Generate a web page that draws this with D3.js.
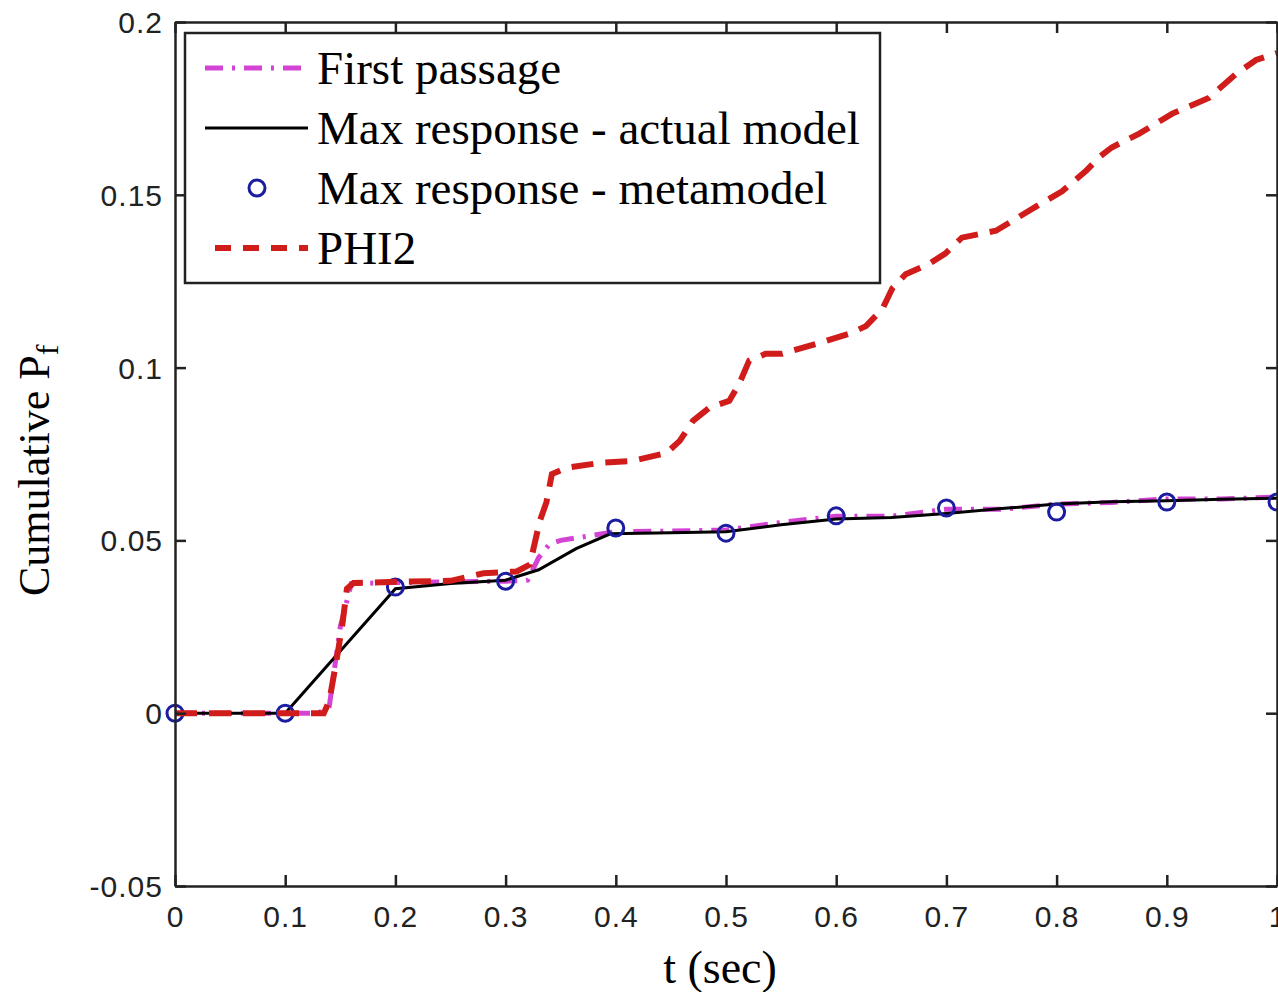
<!DOCTYPE html>
<html><head><meta charset="utf-8">
<script src="https://cdn.jsdelivr.net/npm/d3@7"></script>
<style>body{margin:0;background:#fff}svg{display:block}</style>
</head><body>
<svg id="c" width="1278" height="992"></svg>
<script>
// ---- data ----
const xTicks = [0,0.1,0.2,0.3,0.4,0.5,0.6,0.7,0.8,0.9,1];
const xTickLabels = ["0","0.1","0.2","0.3","0.4","0.5","0.6","0.7","0.8","0.9","1"];
const yTicks = [-0.05,0,0.05,0.1,0.15,0.2];
const yTickLabels = ["-0.05","0","0.05","0.1","0.15","0.2"];

const firstT = [0,0.13,0.14,0.15,0.16,0.2,0.25,0.3,0.32,0.33,0.34,0.35,0.4,0.45,0.5,0.55,0.6,0.65,0.7,0.75,0.8,0.85,0.9,0.95,1.0];
const firstV = [0,0,0.002,0.025,0.0375,0.0378,0.038,0.0382,0.0385,0.045,0.049,0.05,0.0525,0.0527,0.053,0.0552,0.057,0.057,0.059,0.059,0.0605,0.061,0.062,0.062,0.0625];

const actualT = [0,0.1,0.2,0.25,0.3,0.33,0.364,0.395,0.45,0.5,0.55,0.6,0.65,0.7,0.75,0.8,0.85,0.9,0.95,1.0];
const actualV = [0,0,0.036,0.0375,0.0385,0.0415,0.0476,0.0519,0.0522,0.0525,0.0545,0.0562,0.0566,0.0578,0.0592,0.0605,0.0612,0.0615,0.0619,0.0622];

const metaT = [0,0.1,0.2,0.3,0.4,0.5,0.6,0.7,0.8,0.9,1.0];
const metaV = [0,0,0.0365,0.0382,0.0536,0.0521,0.0571,0.0594,0.0582,0.0611,0.0611];

const phiT = [0,0.05,0.1,0.135,0.14,0.148,0.152,0.156,0.162,0.2,0.25,0.28,0.31,0.322,0.331,0.337,0.342,0.355,0.385,0.415,0.446,0.458,0.47,0.485,0.503,0.512,0.521,0.536,0.551,0.582,0.612,0.627,0.642,0.651,0.663,0.684,0.699,0.714,0.745,0.775,0.805,0.827,0.839,0.85,0.875,0.905,0.938,0.963,0.981,1.0];
const phiV = [0,0,0,0,0.0035,0.018,0.026,0.036,0.0377,0.038,0.0383,0.0405,0.041,0.043,0.0556,0.061,0.0692,0.071,0.0724,0.073,0.0753,0.0788,0.0846,0.0884,0.0904,0.0953,0.102,0.104,0.104,0.1069,0.1098,0.112,0.117,0.123,0.127,0.130,0.133,0.1376,0.1396,0.1454,0.151,0.157,0.161,0.1637,0.1677,0.1735,0.178,0.185,0.189,0.191];

const legendLabels = ["First passage","Max response - actual model","Max response - metamodel","PHI2"];

// ---- layout ----
const svg = d3.select("#c");
const L = 175, R = 1277, T = 22, B = 886;
const x = d3.scaleLinear().domain([0,1]).range([L,R]);
const y = d3.scaleLinear().domain([-0.05,0.2]).range([B,T]);

const MAG = "#d444d4", RED = "#d11c1c", BLUE = "#1c1ca0", AX = "#222";

const line = d3.line().x(d=>x(d[0])).y(d=>y(d[1]));
const zip = (a,b)=>a.map((v,i)=>[v,b[i]]);

// ---- series ----
svg.append("path").attr("d", line(zip(firstT, firstV)))
  .attr("fill","none").attr("stroke",MAG).attr("stroke-width",5)
  .attr("stroke-dasharray","18,9,3,9");
svg.append("path").attr("d", line(zip(actualT, actualV)))
  .attr("fill","none").attr("stroke","#000").attr("stroke-width",3);
svg.append("g").selectAll("circle").data(zip(metaT, metaV)).join("circle")
  .attr("cx",d=>x(d[0])).attr("cy",d=>y(d[1])).attr("r",8)
  .attr("fill","none").attr("stroke",BLUE).attr("stroke-width",3);
svg.append("path").attr("d", line(zip(phiT, phiV)))
  .attr("fill","none").attr("stroke",RED).attr("stroke-width",6)
  .attr("stroke-dasharray","22,12");

// ---- axes ----
const fmtX = (d,i)=>xTickLabels[i];
const fmtY = (d,i)=>yTickLabels[i];
const tickFont = g => g.selectAll("text").attr("font-family","'Liberation Sans', Arial, sans-serif")
  .attr("font-size",30).attr("fill","#222").attr("letter-spacing","1px");

const gx = svg.append("g").attr("transform",`translate(0,${B})`)
  .call(d3.axisBottom(x).tickValues(xTicks).tickFormat(fmtX).tickSizeInner(-11).tickSizeOuter(0).tickPadding(26));
gx.call(tickFont);
const gy = svg.append("g").attr("transform",`translate(${L},0)`)
  .call(d3.axisLeft(y).tickValues(yTicks).tickFormat(fmtY).tickSizeInner(-11).tickSizeOuter(0).tickPadding(12));
gy.call(tickFont);
svg.append("g").attr("transform",`translate(0,${T})`)
  .call(d3.axisTop(x).tickValues(xTicks).tickFormat("").tickSizeInner(-11).tickSizeOuter(0));
svg.append("g").attr("transform",`translate(${R},0)`)
  .call(d3.axisRight(y).tickValues(yTicks).tickFormat("").tickSizeInner(-11).tickSizeOuter(0));
svg.selectAll(".domain").attr("stroke",AX).attr("stroke-width",2.5);
svg.selectAll(".tick line").attr("stroke",AX).attr("stroke-width",2.5);
gx.selectAll(".tick text").attr("dy","0.5em");
gy.selectAll(".tick text").attr("dy","0.35em");

// ---- axis labels ----
svg.append("text").attr("x",720).attr("y",983).attr("text-anchor","middle")
  .attr("font-family","'Liberation Serif','Times New Roman',serif").attr("font-size",46)
  .attr("fill","#000").text("t (sec)");
const yl = svg.append("text").attr("transform","translate(49,596) rotate(-90)")
  .attr("font-family","'Liberation Serif','Times New Roman',serif").attr("font-size",44).attr("fill","#000");
yl.append("tspan").text("Cumulative  P");
yl.append("tspan").attr("font-size",32).attr("dy",9).text("f");

// ---- legend ----
const lg = svg.append("g");
lg.append("rect").attr("x",185).attr("y",33).attr("width",695).attr("height",250)
  .attr("fill","#fff").attr("stroke",AX).attr("stroke-width",2.5);
const rowY = [68,128,188,248];
const lx0 = 205, lx1 = 308;
lg.append("line").attr("x1",lx0).attr("x2",lx1).attr("y1",rowY[0]).attr("y2",rowY[0])
  .attr("stroke",MAG).attr("stroke-width",5).attr("stroke-dasharray","18,9,3,9");
lg.append("line").attr("x1",lx0).attr("x2",lx1).attr("y1",rowY[1]).attr("y2",rowY[1])
  .attr("stroke","#000").attr("stroke-width",3);
lg.append("circle").attr("cx",257).attr("cy",rowY[2]).attr("r",8)
  .attr("fill","none").attr("stroke",BLUE).attr("stroke-width",3);
lg.append("line").attr("x1",215).attr("x2",lx1).attr("y1",rowY[3]).attr("y2",rowY[3])
  .attr("stroke",RED).attr("stroke-width",6).attr("stroke-dasharray","16,12");
lg.selectAll("text.lab").data(legendLabels).join("text").attr("class","lab")
  .attr("x",317).attr("y",(d,i)=>rowY[i]).attr("dy","0.33em")
  .attr("font-family","'Liberation Serif','Times New Roman',serif").attr("font-size",47)
  .attr("fill","#000").text(d=>d);
</script>
</body></html>
